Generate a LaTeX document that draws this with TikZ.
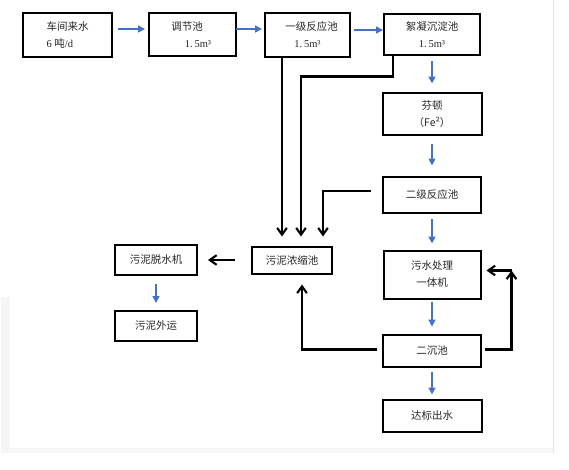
\documentclass[tikz,border=0pt]{standalone}
\usepackage{fontspec}
\setmainfont{Noto Sans CJK SC}
\newfontfamily\numfont{Liberation Serif}
\usepackage{tikz}
\usetikzlibrary{positioning,arrows.meta}
\usepackage{xcolor}
\definecolor{flowblue}{RGB}{68,114,196}

\begin{document}
\begin{tikzpicture}[
    x=1pt, y=-1pt,
    every node/.style={font=\fontsize{10.5}{17}\selectfont, text=black!85},
    unit/.style={rectangle, draw=black, line width=2pt, inner sep=2pt, outer sep=0pt, align=center},
    flow/.style={-{Triangle[length=2.4mm, width=2.4mm]}, draw=flowblue, line width=1.6pt},
    sludge/.style={-{Straight Barb[length=2.4mm, width=3.4mm]}, line width=2.1pt},
]
\useasboundingbox (0,0) rectangle (569,470);

% Page edge
\fill[gray!7] (1,448) rectangle (553,453);
\fill[gray!7] (1,297) rectangle (10,453);
\draw[gray!20, line width=1pt] (553,0) -- (553,453);

% Top row: inflow and first tanks
\node[unit, minimum width=89pt, minimum height=44pt, align=left] (inflow) at (67.5,35) {车间来水\\{\numfont 6 }吨{\numfont /d}};
\node[unit, minimum width=87pt, minimum height=43pt, right=37pt of inflow] (buffer) {调节池\kern11pt\\\kern11pt{\numfont 1.\,5m³}};
\node[unit, minimum width=85pt, minimum height=44pt, right=29pt of buffer] (react1) {\kern8pt一级反应池\\{\numfont 1.\,5m³}};
\node[unit, minimum width=96pt, minimum height=41pt, right=34pt of react1] (floc) {絮凝沉淀池\\{\numfont 1.\,5m³}};

% Right column: treatment chain
\node[unit, minimum width=99pt, minimum height=42pt, below=38pt of floc] (fenton) {芬顿\\（Fe²）};
\node[unit, minimum width=98pt, minimum height=35pt, below=42pt of fenton] (react2) {二级反应池};
\node[unit, minimum width=97pt, minimum height=48pt, below=38pt of react2] (integ) {污水处理\\一体机};
\node[unit, minimum width=98pt, minimum height=32pt, below=36pt of integ] (settle) {二沉池};
\node[unit, minimum width=99pt, minimum height=32pt, below=33pt of settle] (effl) {达标出水};

% Sludge line
\node[unit, minimum width=80pt, minimum height=27pt] (thick) at (292,260) {污泥浓缩池};
\node[unit, minimum width=82pt, minimum height=30pt, left=55pt of thick] (dewater) {污泥脱水机};
\node[unit, minimum width=82pt, minimum height=30pt, below=36pt of dewater] (haul) {污泥外运};

% Water flow
\draw[flow] ([xshift=6pt,yshift=6pt]inflow.east) -- ([xshift=-4pt,yshift=6pt]buffer.west);
\draw[flow] ([yshift=6pt]buffer.east) -- ([xshift=-3pt,yshift=6pt]react1.west);
\draw[flow] ([xshift=4pt,yshift=5pt]react1.east) -- ([xshift=-1pt,yshift=5pt]floc.west);
\draw[flow] ([yshift=-6pt]floc.south) -- ([yshift=10pt]fenton.north);
\draw[flow] ([yshift=-9pt]fenton.south) -- ([yshift=12pt]react2.north);
\draw[flow] ([yshift=-6pt]react2.south) -- ([yshift=7pt]integ.north);
\draw[flow] ([yshift=-3pt]integ.south) -- ([yshift=8pt]settle.north);
\draw[flow] ([yshift=-5pt]settle.south) -- ([yshift=5pt]effl.north);
\draw[flow] ([yshift=-9pt]dewater.south) -- ([yshift=8pt]haul.north);

% Sludge returns
\coordinate (t1) at ([xshift=-10pt,yshift=10pt]thick.north);
\coordinate (t2) at ([xshift=9pt,yshift=10pt]thick.north);
\coordinate (t3) at ([xshift=31pt,yshift=10pt]thick.north);
\draw[sludge] (react1.south -| t1) -- (t1);
\draw[sludge] ([xshift=-39pt]floc.south) -- ++(0,21) -| (t2);
\draw[sludge] ([xshift=-12pt,yshift=4pt]react2.west) -| (t3);
\draw[sludge] ([xshift=-17pt]thick.west) -- ([xshift=11pt]dewater.east);
\draw[sludge] ([xshift=-6pt,yshift=1pt]settle.west) -| ([xshift=10pt,yshift=-11pt]thick.south);

% Recycle to integrated unit
\coordinate (c1) at ([xshift=31pt,yshift=4pt]integ.east);
\draw[sludge] ([xshift=4pt,yshift=1pt]settle.east) -| (c1);
\draw[sludge] (c1) -- ([xshift=6pt,yshift=4pt]integ.east);

\end{tikzpicture}
\end{document}
